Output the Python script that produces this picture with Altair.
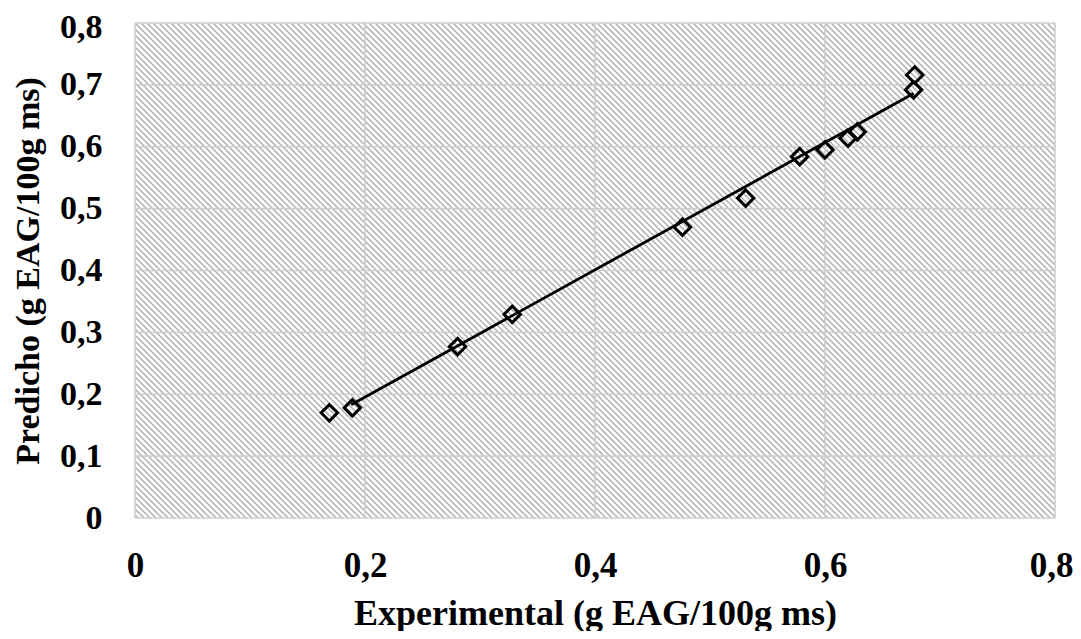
import base64
import altair as alt
import pandas as pd

# ---- data ----
exp_x = [0.169, 0.189, 0.2805, 0.328, 0.476, 0.531, 0.578, 0.600, 0.620, 0.628, 0.677, 0.678]
pred_y = [0.170, 0.178, 0.277, 0.329, 0.470, 0.517, 0.584, 0.595, 0.614, 0.624, 0.692, 0.716]
fit_x = [0.188, 0.677]
fit_y = [0.183, 0.686]
x_ticks = [0, 0.2, 0.4, 0.6, 0.8]
y_ticks = [0, 0.1, 0.2, 0.3, 0.4, 0.5, 0.6, 0.7, 0.8]
domain = [0, 0.8]

W, H = 920, 495
FONT = "Liberation Serif"
GRID = "#cfcfcf"
STRIPE = "#b0b0b0"

# hatch texture (background decoration) as an SVG image
P = 6
hatch_svg = (
    f'<svg xmlns="http://www.w3.org/2000/svg" width="{W}" height="{H}">'
    f'<defs><pattern id="h" width="{P}" height="{P}" patternUnits="userSpaceOnUse">'
    f'<path d="M-1,-1 L{P+1},{P+1} M{P-1},-1 L{P+1},1 M-1,{P-1} L1,{P+1}" '
    f'stroke="{STRIPE}" stroke-width="1.5" fill="none"/></pattern></defs>'
    f'<rect width="{W}" height="{H}" fill="white"/>'
    f'<rect width="{W}" height="{H}" fill="url(#h)"/></svg>'
)
hatch_url = "data:image/svg+xml;base64," + base64.b64encode(hatch_svg.encode()).decode()

xs = alt.Scale(domain=domain, nice=False, zero=False)
ys = alt.Scale(domain=domain, nice=False, zero=False)

label_expr = "datum.value == 0 ? '0' : replace(format(datum.value, '.1f'), '.', ',')"
x_axis = alt.Axis(values=x_ticks, labelExpr=label_expr, title="Experimental (g EAG/100g ms)",
                  labelPadding=30, titlePadding=13, titleFontSize=36, labelFontSize=35,
                  labelFlush=False,
                  labelOffset={"condition": {"test": "datum.value >= 0.8", "value": -4}, "value": 0})
y_axis = alt.Axis(values=y_ticks, labelExpr=label_expr, title="Predicho (g EAG/100g ms)",
                  labelPadding=33, titlePadding=14, titleFontSize=34, labelFontSize=34,
                  labelFlush=False,
                  labelOffset={"condition": {"test": "datum.value >= 0.8", "value": 4}, "value": 0})

bg_df = pd.DataFrame({"x0": [domain[0]], "y1": [domain[1]], "url": [hatch_url]})
bg = alt.Chart(bg_df).mark_image(width=W, height=H, align="left", baseline="top", aspect=False).encode(
    x=alt.X("x0:Q", scale=xs, axis=x_axis),
    y=alt.Y("y1:Q", scale=ys, axis=y_axis),
    url="url:N",
)

gx = alt.Chart(pd.DataFrame({"g": x_ticks})).mark_rule(color=GRID, strokeWidth=1.6).encode(
    x=alt.X("g:Q", scale=xs, axis=x_axis)
)
gy = alt.Chart(pd.DataFrame({"g": y_ticks})).mark_rule(color=GRID, strokeWidth=1.6).encode(
    y=alt.Y("g:Q", scale=ys, axis=y_axis)
)

pts = alt.Chart(pd.DataFrame({"x": exp_x, "y": pred_y})).mark_point(
    shape="diamond", size=270, filled=False, stroke="black", strokeWidth=3, opacity=1
).encode(
    x=alt.X("x:Q", scale=xs, axis=x_axis),
    y=alt.Y("y:Q", scale=ys, axis=y_axis),
)

line = alt.Chart(pd.DataFrame({"x": fit_x, "y": fit_y})).mark_line(color="black", strokeWidth=2.8).encode(
    x=alt.X("x:Q", scale=xs, axis=x_axis), y=alt.Y("y:Q", scale=ys, axis=y_axis)
)

chart = alt.layer(bg, gx, gy, pts, line).properties(
    width=W, height=H,
    autosize=alt.AutoSizeParams(type="none"),
    padding={"left": 127, "top": 15, "right": 18, "bottom": 113},
).configure_view(stroke=None).configure_axis(
    domain=False, ticks=False, tickSize=0, grid=False,
    labelFont=FONT, labelFontWeight="bold", labelColor="black",
    titleFont=FONT, titleFontWeight="bold", titleColor="black",
)

chart.save("out.html", embed_options={"renderer": "svg", "actions": False})
